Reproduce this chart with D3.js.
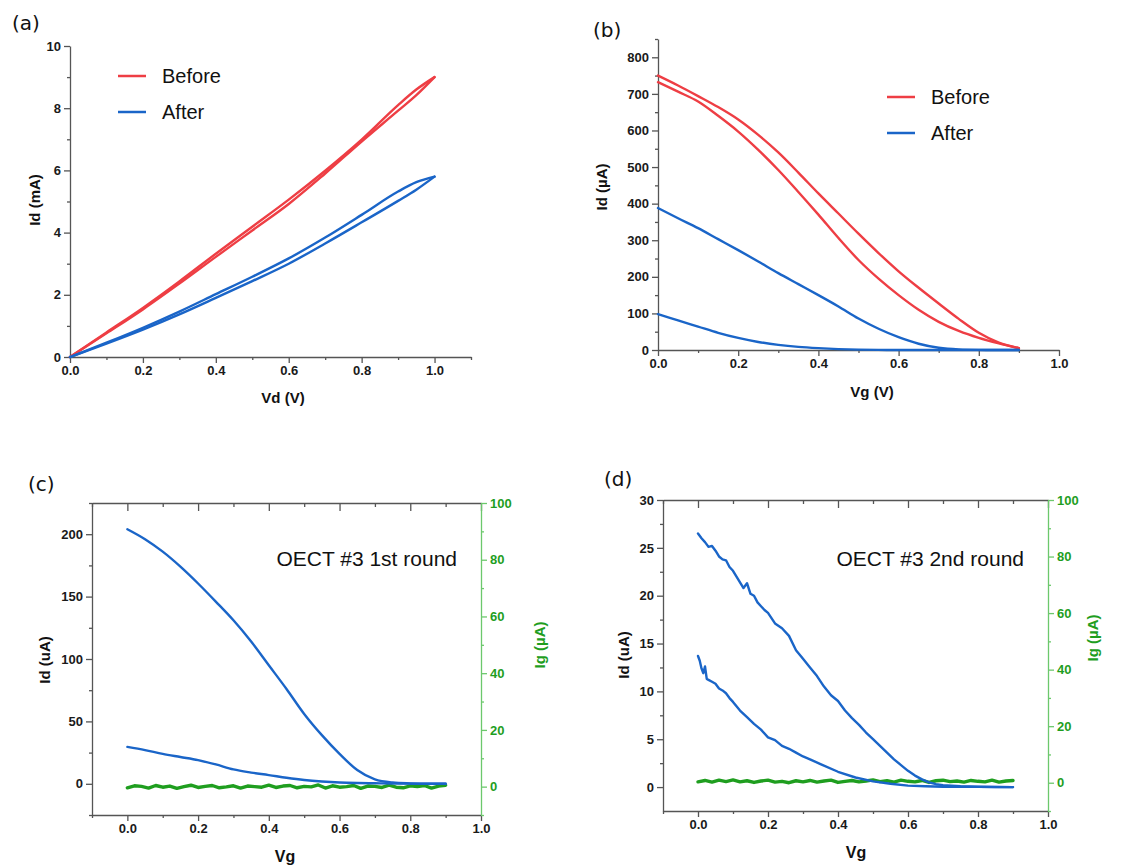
<!DOCTYPE html>
<html><head><meta charset="utf-8">
<script src="https://cdn.jsdelivr.net/npm/d3@7"></script>
<style>body{margin:0;background:#fff}svg{display:block}</style>
</head><body>
<svg id="chart" width="1126" height="866"></svg>
<script>
// ---------- DATA ----------
// (a) output curves
const aVd = [0,0.1,0.2,0.3,0.4,0.5,0.6,0.7,0.8,0.9,0.95,1.0];
const aBeforeFwd = [0,0.76,1.53,2.36,3.22,4.07,4.92,5.90,6.93,7.92,8.42,9.0];
const aBeforeRev = [0,0.79,1.58,2.43,3.32,4.19,5.06,5.99,6.99,8.10,8.60,9.0];
const aAfterFwd  = [0,0.43,0.88,1.37,1.90,2.44,3.00,3.65,4.33,5.02,5.38,5.8];
const aAfterRev  = [0,0.46,0.94,1.46,2.02,2.58,3.17,3.84,4.57,5.32,5.62,5.8];
// (b) transfer curves
const bVg = [0,0.05,0.1,0.15,0.2,0.25,0.3,0.35,0.4,0.45,0.5,0.55,0.6,0.65,0.7,0.75,0.8,0.85,0.9];
const bBeforeUp  = [750,723,694,664,630,588,540,485,428,373,318,265,215,170,127,85,47,20,5];
const bBeforeLow = [732,706,679,640,597,547,492,432,370,306,246,195,150,110,77,52,33,18,5];
const bAfterUp   = [388,360,333,303,273,242,210,180,150,119,86,58,35,17,6,1.5,0.3,0,0];
const bAfterLow  = [98,81,64,47,33,22,14,8.5,5,2.5,1,0.3,0,0,0,0,0,0,0];
// (c) OECT #3 1st round
const cVg = [0,0.05,0.1,0.15,0.2,0.25,0.3,0.35,0.4,0.45,0.5,0.55,0.6,0.65,0.7,0.75,0.8,0.85,0.9];
const cIdUp  = [204,196,186,174,160.5,146,131,114,95,76,56,39,24,11,3.5,1,0.3,0,0];
const cIdLow = [29.6,27,24,21.5,19,15.5,11.5,9,7,4.8,3,1.8,1,0.6,0.4,0.2,0.1,0,0];
const gVg = [0,0.02,0.04,0.06,0.08,0.1,0.12,0.14,0.16,0.18,0.2,0.22,0.24,0.26,0.28,0.3,0.32,0.34,0.36,0.38,0.4,0.42,0.44,0.46,0.48,0.5,0.52,0.54,0.56,0.58,0.6,0.62,0.64,0.66,0.68,0.7,0.72,0.74,0.76,0.78,0.8,0.82,0.84,0.86,0.88,0.9];
const cIg = [-0.4,0.3,0.1,-0.5,0.4,-0.2,0.2,-0.6,0.0,0.5,-0.3,0.1,0.4,-0.4,-0.1,0.3,-0.5,0.2,0.0,-0.2,0.5,-0.3,0.2,0.4,-0.4,0.1,-0.1,0.6,-0.5,0.3,-0.2,0.0,0.4,-0.6,0.2,0.1,-0.3,0.5,-0.2,-0.4,0.3,0.0,0.4,-0.5,0.2,0.5];
// (d) OECT #3 2nd round
const dVgUp = [0,0.01,0.02,0.03,0.04,0.05,0.06,0.07,0.08,0.09,0.1,0.11,0.12,0.13,0.14,0.15,0.16,0.17,0.18,0.19,0.2,0.22,0.24,0.26,0.28,0.3,0.32,0.34,0.36,0.38,0.4,0.42,0.44,0.46,0.48,0.5,0.52,0.54,0.56,0.58,0.6,0.62,0.64,0.66,0.68,0.7,0.75,0.8,0.85,0.9];
const dIdUp = [26.5,26.0,25.6,25.1,25.2,24.7,24.1,23.8,23.7,23.0,22.6,22.0,21.4,20.8,21.3,20.2,20.0,19.3,18.9,18.5,18.2,17.1,16.6,15.8,14.3,13.4,12.5,11.6,10.5,9.6,9.0,8.0,7.2,6.5,5.7,5.0,4.3,3.6,2.9,2.3,1.7,1.2,0.8,0.5,0.3,0.2,0.08,0.03,0.01,0];
const dVgLow = [0,0.005,0.01,0.015,0.02,0.025,0.03,0.04,0.05,0.06,0.07,0.08,0.09,0.1,0.12,0.14,0.16,0.18,0.2,0.22,0.24,0.26,0.28,0.3,0.32,0.35,0.4,0.45,0.5,0.55,0.6,0.65,0.7,0.8,0.9];
const dIdLow = [13.7,13.2,12.4,11.9,12.6,11.3,11.2,11.0,10.8,10.3,10.1,9.8,9.3,8.9,8.0,7.3,6.6,6.0,5.2,4.9,4.3,4.0,3.6,3.2,2.9,2.4,1.6,1.0,0.6,0.35,0.15,0.08,0.04,0.02,0];
const dIg = [0.3,0.8,0.2,0.9,0.4,1.0,0.3,0.7,0.1,0.6,0.9,0.2,0.5,0.0,0.7,0.3,0.8,0.2,0.6,0.9,0.1,0.5,0.8,0.3,0.6,1.0,0.4,0.7,0.2,0.9,0.5,0.3,0.8,0.1,0.7,0.9,0.4,0.6,0.2,0.8,0.5,0.3,0.9,0.2,0.6,0.8];

// ---------- DRAW ----------
const svg = d3.select('#chart');
const RED = '#ee3e44', BLUE = '#1a65c8', GREEN = '#1f9e1f', GREENAX = '#6cc86c', AX = '#555';
const TF = 'Liberation Sans, Arial, sans-serif';
const fmt1 = d3.format('.1f');

function style(g, color, textColor) {
  g.selectAll('path,line').attr('stroke', color).attr('stroke-width', 1.3);
  g.selectAll('text').attr('font-family', TF).attr('font-weight', 'bold')
    .attr('font-size', 13).attr('fill', textColor || '#1a1a1a');
}
function axis(gen, pos, tr, major, minor, fmt, color, textColor, size) {
  const sz = size || 6;
  const g1 = svg.append('g').attr('transform', tr)
    .call(gen(pos).tickValues(major).tickFormat(fmt).tickSize(sz).tickSizeOuter(0).tickPadding(3));
  style(g1, color, textColor);
  if (minor) {
    const g2 = svg.append('g').attr('transform', tr)
      .call(gen(pos).tickValues(minor).tickFormat('').tickSize(sz/2).tickSizeOuter(0));
    g2.select('.domain').remove();
    style(g2, color);
  }
}
function line(x, y, xs, ys, color, w, curve) {
  const pts = xs.map((v, i) => [v, ys[i]]);
  svg.append('path').datum(pts)
    .attr('d', d3.line().x(d => x(d[0])).y(d => y(d[1])).curve(curve || d3.curveMonotoneX))
    .attr('fill', 'none').attr('stroke', color).attr('stroke-width', w || 2.4)
    .attr('stroke-linejoin', 'round').attr('stroke-linecap', 'round');
}
function txt(x, y, s, opts) {
  const t = svg.append('text').attr('x', x).attr('y', y).text(s)
    .attr('font-family', opts.family || TF).attr('font-size', opts.size || 14)
    .attr('font-weight', opts.weight || 'normal').attr('fill', opts.fill || '#111')
    .attr('text-anchor', opts.anchor || 'start');
  if (opts.rotate) t.attr('transform', `rotate(-90,${x},${y})`);
  return t;
}
const PL = 'DejaVu Sans, sans-serif';

// ----- (a) -----
{
  const x = d3.scaleLinear([0, 1.1], [70, 471]);
  const y = d3.scaleLinear([0, 10], [357, 46]);
  axis(d3.axisBottom, x, 'translate(0,357)', [0,0.2,0.4,0.6,0.8,1.0], [0.1,0.3,0.5,0.7,0.9,1.1], fmt1, AX);
  axis(d3.axisLeft, y, 'translate(70,0)', [0,2,4,6,8,10], [1,3,5,7,9], d3.format('d'), AX);
  line(x, y, aVd, aBeforeFwd, RED);
  line(x, y, aVd, aBeforeRev, RED);
  line(x, y, aVd, aAfterFwd, BLUE);
  line(x, y, aVd, aAfterRev, BLUE);
  txt(12, 30, '(a)', {family: PL, size: 20});
  txt(40, 200, 'Id (mA)', {weight: 'bold', size: 15, rotate: true, anchor: 'middle'});
  txt(283, 403, 'Vd (V)', {weight: 'bold', size: 15, anchor: 'middle'});
  svg.append('line').attr('x1', 118).attr('x2', 146).attr('y1', 76).attr('y2', 76).attr('stroke', RED).attr('stroke-width', 2.5);
  svg.append('line').attr('x1', 118).attr('x2', 146).attr('y1', 112).attr('y2', 112).attr('stroke', BLUE).attr('stroke-width', 2.5);
  txt(162, 83, 'Before', {size: 20});
  txt(162, 119, 'After', {size: 20});
}
// ----- (b) -----
{
  const x = d3.scaleLinear([0, 1.0], [658, 1059]);
  const y = d3.scaleLinear([0, 850], [350, 39]);
  axis(d3.axisBottom, x, 'translate(0,350)', [0,0.2,0.4,0.6,0.8,1.0], [0.1,0.3,0.5,0.7,0.9], fmt1, AX);
  axis(d3.axisLeft, y, 'translate(658,0)', [0,100,200,300,400,500,600,700,800], [50,150,250,350,450,550,650,750,850], d3.format('d'), AX);
  line(x, y, bVg, bBeforeUp, RED);
  line(x, y, bVg, bBeforeLow, RED);
  line(x, y, bVg, bAfterUp, BLUE);
  line(x, y, bVg, bAfterLow, BLUE);
  txt(593, 37, '(b)', {family: PL, size: 20});
  txt(607, 187, 'Id (µA)', {weight: 'bold', size: 15, rotate: true, anchor: 'middle'});
  txt(872, 397, 'Vg (V)', {weight: 'bold', size: 15, anchor: 'middle'});
  svg.append('line').attr('x1', 887).attr('x2', 915).attr('y1', 97).attr('y2', 97).attr('stroke', RED).attr('stroke-width', 2.5);
  svg.append('line').attr('x1', 887).attr('x2', 915).attr('y1', 133).attr('y2', 133).attr('stroke', BLUE).attr('stroke-width', 2.5);
  txt(931, 104, 'Before', {size: 20});
  txt(931, 140, 'After', {size: 20});
}
// ----- (c) / (d) -----
function dual(p) {
  const x = d3.scaleLinear([-0.1, 1.0], [p.x0, p.x1]);
  const yl = d3.scaleLinear(p.ldom, [p.y1, p.y0]);
  const yr = d3.scaleLinear([-10, 100], [p.y1, p.y0]);
  // top frame with inward ticks
  axis(d3.axisBottom, x, `translate(0,${p.y0})`, [0,0.2,0.4,0.6,0.8,1.0], [-0.1,0.1,0.3,0.5,0.7,0.9], () => '', AX, null, 8);
  axis(d3.axisBottom, x, `translate(0,${p.y1})`, [0,0.2,0.4,0.6,0.8,1.0], [-0.1,0.1,0.3,0.5,0.7,0.9], fmt1, AX);
  axis(d3.axisLeft, yl, `translate(${p.x0},0)`, p.lmaj, p.lmin, d3.format('d'), AX);
  axis(d3.axisRight, yr, `translate(${p.x1},0)`, [0,20,40,60,80,100], [-10,10,30,50,70,90], d3.format('d'), GREENAX, GREEN);
  line(x, yr, gVg, p.ig, GREEN, 3.4, d3.curveLinear);
  line(x, yl, p.ux, p.up, BLUE, 2.4, p.curve);
  line(x, yl, p.lx, p.low, BLUE, 2.4, p.curve);
  txt(p.lab[0], p.lab[1], p.label, {family: PL, size: 20});
  txt(p.yt[0], p.yt[1], 'Id (uA)', {weight: 'bold', size: 15, rotate: true, anchor: 'middle'});
  txt(p.xt[0], p.xt[1], 'Vg', {weight: 'bold', size: 16, anchor: 'middle'});
  txt(p.rt[0], p.rt[1], 'Ig (µA)', {weight: 'bold', size: 15, rotate: true, anchor: 'middle', fill: GREEN});
  txt(p.an[0], p.an[1], p.anText, {size: 21, anchor: 'end'});
}
dual({x0: 92, x1: 481, y0: 503, y1: 815, ldom: [-25, 225],
  lmaj: [0,50,100,150,200], lmin: [-25,25,75,125,175,225],
  ux: cVg, up: cIdUp, lx: cVg, low: cIdLow, ig: cIg,
  lab: [28, 491], label: '(c)', yt: [50, 660], xt: [285, 862], rt: [545, 645],
  an: [457, 566], anText: 'OECT #3 1st round'});
dual({x0: 663, x1: 1048, y0: 500, y1: 811, ldom: [-2.5, 30],
  lmaj: [0,5,10,15,20,25,30], lmin: [2.5,7.5,12.5,17.5,22.5,27.5],
  ux: dVgUp, up: dIdUp, lx: dVgLow, low: dIdLow, ig: dIg, curve: d3.curveLinear,
  lab: [604, 486], label: '(d)', yt: [629, 655], xt: [856, 858], rt: [1098, 638],
  an: [1024, 566], anText: 'OECT #3 2nd round'});
</script>
</body></html>
